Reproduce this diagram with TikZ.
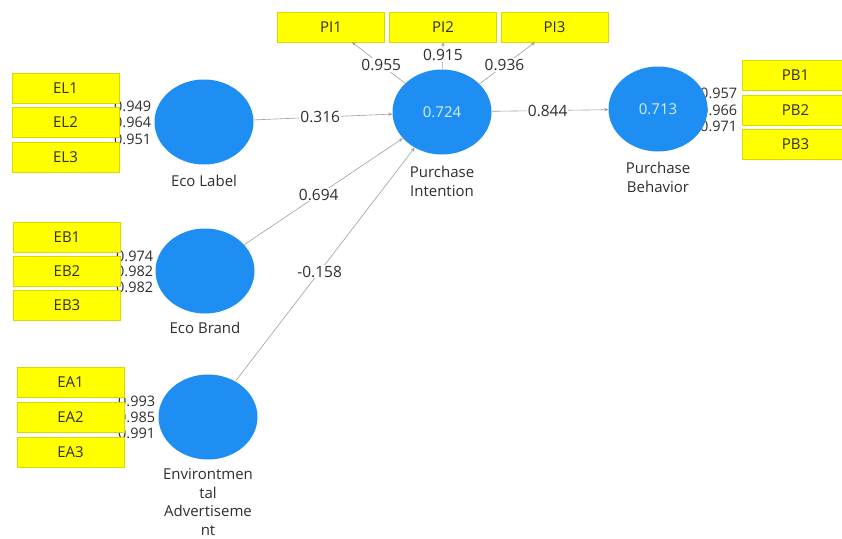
\documentclass[tikz,border=0pt]{standalone}
\usepackage{fontspec}
\setmainfont{Open Sans}
\usetikzlibrary{arrows.meta,shapes.geometric}
\definecolor{lvblue}{HTML}{1E8EF2}
\definecolor{indyel}{HTML}{FFFF00}
\definecolor{txt}{HTML}{2E2E2E}
\definecolor{lvtxt}{HTML}{D6ECFF}
\begin{document}
\begin{tikzpicture}[x=1pt,y=-1pt,
  indbox/.style={fill=indyel,draw=indyel!85!black,line width=0.4pt,minimum width=107pt,minimum height=30pt,inner sep=0pt,font=\fontsize{15}{17}\selectfont,text=txt},
  latent/.style={ellipse,fill=lvblue,draw=none,minimum width=99pt,minimum height=85pt,inner sep=0pt,font=\fontsize{15}{17}\selectfont,text=lvtxt},
  lvname/.style={align=center,font=\fontsize{15}{19}\selectfont,text=txt,inner sep=1pt},
  load/.style={anchor=west,font=\fontsize{14.5}{16}\selectfont,text=txt,inner sep=0pt},
  path/.style={draw=gray!75,line width=0.6pt,-{Stealth[length=4pt,width=3.5pt]}},
  coef/.style={fill=white,font=\fontsize{15.5}{17}\selectfont,text=txt,inner sep=1pt}]
\useasboundingbox (0,0) rectangle (842,538);
\fill[white] (0,0) rectangle (842,538);
% outer loadings (partly hidden behind boxes and circles)
\node[load] (l1) at (114,106) {0.949};
\node[load] (l2) at (114,122) {0.964};
\node[load] (l3) at (114,139) {0.951};
\node[load] (l4) at (116,256) {0.974};
\node[load] (l5) at (116,271) {0.982};
\node[load] (l6) at (116,287) {0.982};
\node[load] (l7) at (118,401) {0.993};
\node[load] (l8) at (118,417) {0.985};
\node[load] (l9) at (118,433) {0.991};
\node[load] (l10) at (700,93) {0.957};
\node[load] (l11) at (700,110) {0.966};
\node[load] (l12) at (700,126) {0.971};
% indicators
\node[indbox] (EL1) at (65.5,88.5) {EL1};
\node[indbox] (EL2) at (65.5,122.5) {EL2};
\node[indbox] (EL3) at (65.5,157) {EL3};
\node[indbox] (EB1) at (67,237) {EB1};
\node[indbox] (EB2) at (67,271.5) {EB2};
\node[indbox] (EB3) at (67,305.5) {EB3};
\node[indbox] (EA1) at (70.5,382) {EA1};
\node[indbox] (EA2) at (70.5,417) {EA2};
\node[indbox] (EA3) at (70.5,452) {EA3};
\node[indbox] (PI1) at (331,27) {PI1};
\node[indbox] (PI2) at (443,27) {PI2};
\node[indbox] (PI3) at (554.5,27) {PI3};
\node[indbox] (PB1) at (795.5,75) {PB1};
\node[indbox] (PB2) at (795.5,110) {PB2};
\node[indbox] (PB3) at (795.5,144.5) {PB3};
% latent variables
\node[latent] (EL) at (204,122) {};
\node[latent] (EB) at (205,271) {};
\node[latent] (EA) at (208,417) {};
\node[latent] (PI) at (442,112) {0.724};
\node[latent] (PB) at (658,109) {0.713};
\node[lvname] (ELn) at (204,181) {Eco Label};
\node[lvname] (EBn) at (205,328) {Eco Brand};
\node[lvname,font=\fontsize{15}{18.5}\selectfont] (EAn) at (208,502) {Environtmen\\tal\\Advertiseme\\nt};
\node[lvname] (PIn) at (442,181) {Purchase\\Intention};
\node[lvname] (PBn) at (658,177) {Purchase\\Behavior};
% PI loadings
\draw[path] (PI) -- (PI1.south -| 352,0) node[coef,pos=0.45] {0.955};
\draw[path] (PI) -- (PI2.south) node[coef,pos=0.52] {0.915};
\draw[path] (PI) -- (PI3.south -| 535,0) node[coef,pos=0.45] {0.936};
% structural paths
\draw[path] (EL) -- (PI) node[coef,pos=0.48] {0.316};
\draw[path] (EB) -- (PI) node[coef,pos=0.47] {0.694};
\draw[path] (EA) -- (PI) node[coef,pos=0.47] {-0.158};
\draw[path] (PI) -- (PB) node[coef,pos=0.48] {0.844};
\end{tikzpicture}
\end{document}
